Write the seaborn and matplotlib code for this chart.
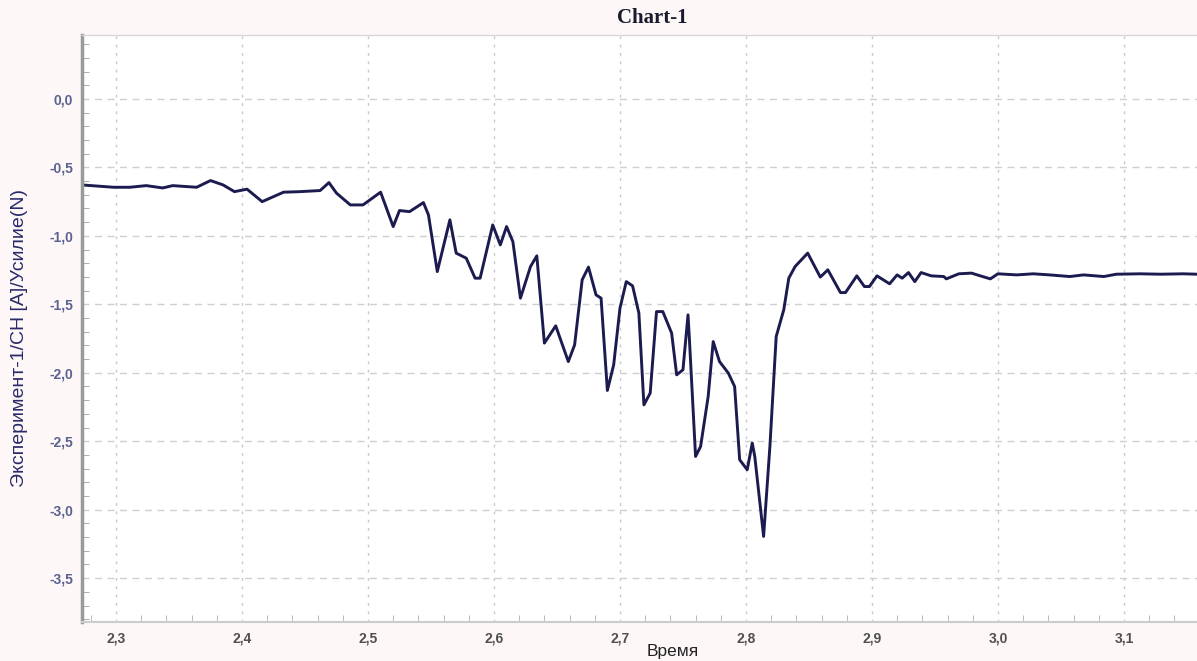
import matplotlib
matplotlib.use('Agg')
import matplotlib.pyplot as plt
from matplotlib.ticker import MultipleLocator, FuncFormatter
import numpy as np
import pandas as pd
import seaborn as sb

# time (s) and force values
time = [2.273, 2.298, 2.311, 2.324, 2.337, 2.345, 2.364, 2.375, 2.385, 2.394,
        2.404, 2.416, 2.433, 2.446, 2.462, 2.469, 2.475, 2.486, 2.496, 2.510,
        2.520, 2.525, 2.533, 2.544, 2.548, 2.555, 2.565, 2.570, 2.578, 2.585,
        2.589, 2.599, 2.605, 2.610, 2.615, 2.621, 2.629, 2.634, 2.640, 2.649,
        2.659, 2.664, 2.670, 2.675, 2.681, 2.685, 2.690, 2.695, 2.700, 2.705,
        2.710, 2.715, 2.719, 2.724, 2.729, 2.734, 2.741, 2.745, 2.750, 2.754,
        2.755, 2.760, 2.764, 2.770, 2.774, 2.779, 2.786, 2.791, 2.795, 2.801,
        2.805, 2.807, 2.814, 2.819, 2.824, 2.830, 2.834, 2.839, 2.849, 2.859,
        2.865, 2.875, 2.879, 2.888, 2.894, 2.898, 2.904, 2.914, 2.920, 2.924,
        2.929, 2.934, 2.939, 2.947, 2.957, 2.959, 2.969, 2.979, 2.986, 2.994,
        3.000, 3.015, 3.028, 3.041, 3.057, 3.068, 3.084, 3.094, 3.113, 3.129,
        3.147, 3.158]
force = [-0.628, -0.645, -0.645, -0.633, -0.650, -0.633, -0.645, -0.596, -0.628, -0.677,
         -0.659, -0.750, -0.681, -0.677, -0.669, -0.611, -0.688, -0.774, -0.774, -0.681,
         -0.932, -0.815, -0.823, -0.757, -0.847, -1.261, -0.883, -1.126, -1.163, -1.309,
         -1.309, -0.920, -1.066, -0.932, -1.042, -1.455, -1.224, -1.146, -1.783, -1.657,
         -1.918, -1.796, -1.321, -1.228, -1.431, -1.455, -2.129, -1.942, -1.528, -1.334,
         -1.365, -1.564, -2.234, -2.148, -1.553, -1.553, -1.710, -2.015, -1.978, -1.577,
         -1.735, -2.611, -2.538, -2.173, -1.772, -1.918, -2.002, -2.100, -2.635, -2.708,
         -2.513, -2.611, -3.195, -2.538, -1.735, -1.540, -1.309, -1.224, -1.126, -1.301,
         -1.248, -1.414, -1.414, -1.292, -1.370, -1.370, -1.292, -1.350, -1.285, -1.309,
         -1.268, -1.334, -1.268, -1.292, -1.297, -1.314, -1.277, -1.272, -1.292, -1.314,
         -1.277, -1.285, -1.277, -1.285, -1.297, -1.285, -1.297, -1.280, -1.277, -1.280,
         -1.277, -1.280]

df = pd.DataFrame({'t': time, 'f': force})

sb.set_style("white")
plt.rcParams['font.family'] = ['Liberation Sans', 'DejaVu Sans']

fig = plt.figure(figsize=(11.97, 6.61), dpi=100, facecolor='#fdf8f7')
ax = fig.add_axes([82/1197, 1-622/661, 1115/1197, 587/661])
ax.set_facecolor('white')

sb.lineplot(data=df, x='t', y='f', color='#1b1b4f', linewidth=2.1, ax=ax, errorbar=None)

ax.set_xlim(2.273, 3.158)
ax.set_ylim(-3.82, 0.467)

ax.xaxis.set_major_locator(MultipleLocator(0.1))
ax.xaxis.set_minor_locator(MultipleLocator(0.02))
ax.yaxis.set_major_locator(MultipleLocator(0.5))
ax.yaxis.set_minor_locator(MultipleLocator(0.1))
comma = FuncFormatter(lambda v, p: f"{v:.1f}".replace('.', ','))
ax.xaxis.set_major_formatter(comma)
ax.yaxis.set_major_formatter(comma)

ax.grid(which='major', axis='y', linestyle=(0, (5, 4)), color='#cfcfcf', linewidth=1)
ax.grid(which='major', axis='x', linestyle=(0, (2, 4)), color='#c8c8c8', linewidth=1)

ax.tick_params(axis='x', which='major', length=0, pad=7, labelsize=10, labelcolor='#505050')
ax.tick_params(axis='x', which='minor', direction='in', length=5, color='#b0b0b0', bottom=True)
ax.tick_params(axis='y', which='major', direction='out', length=4, color='#cfcfcf', pad=2.5,
               labelsize=10, labelcolor='#5b6190')
ax.tick_params(axis='y', which='minor', direction='in', length=5, color='#a0a0a0', left=True)
for lab in ax.get_xticklabels() + ax.get_yticklabels():
    lab.set_fontweight('bold')

ax.spines['left'].set_color('#9a9a9a')
ax.spines['left'].set_linewidth(2.5)
ax.spines['bottom'].set_color('#cccccc')
ax.spines['bottom'].set_linewidth(1.5)
ax.spines['top'].set_color('#d8d8d8')
ax.spines['top'].set_linewidth(1)
ax.spines['right'].set_visible(False)

ax.set_xlabel('')
ax.set_ylabel('')
fig.text(20/1197, 1-338/661, 'Эксперимент-1/CH [A]/Усилие(N)', rotation=90,
         ha='center', va='center', fontsize=14, color='#2a2a6a',
         family=['Liberation Sans Narrow', 'Liberation Sans', 'DejaVu Sans'])
fig.text(673/1197, 1-644/661, 'Время', ha='center', va='top', fontsize=12.5, color='#222222')
fig.text(652/1197, 1-18/661, 'Chart-1', ha='center', va='center', fontsize=15,
         fontweight='bold', color='#1a1a2e', family=['Liberation Serif', 'DejaVu Serif'])

fig.savefig('out.png', dpi=100, facecolor=fig.get_facecolor())
